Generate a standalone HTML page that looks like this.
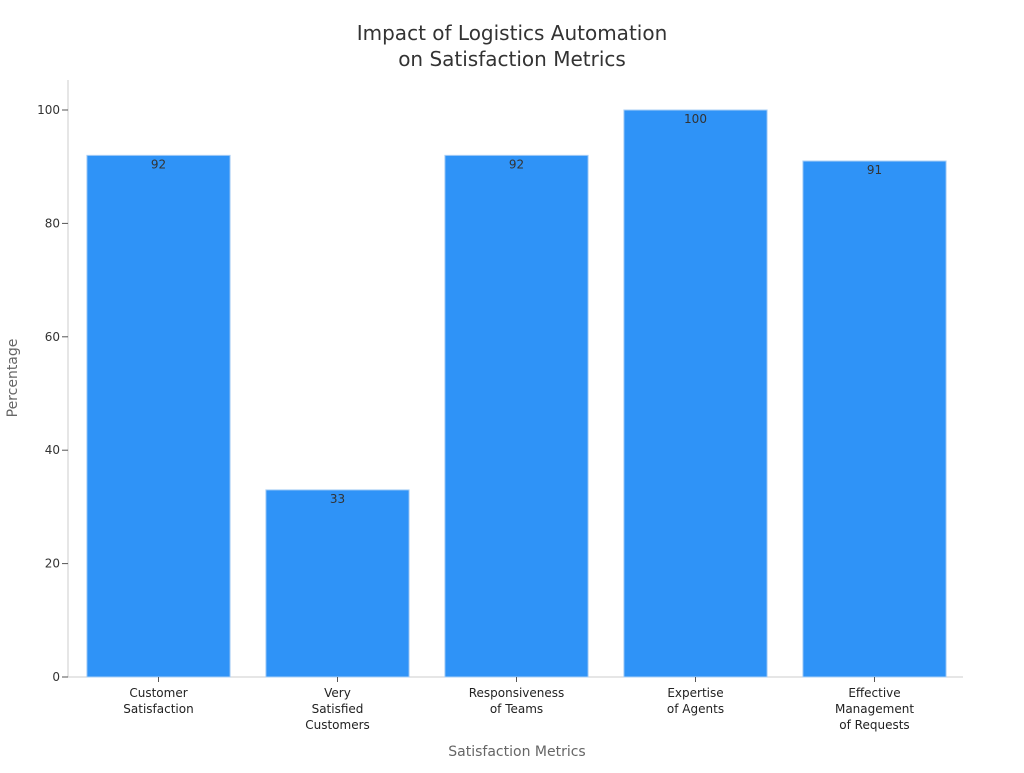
<!DOCTYPE html>
<html><head><meta charset="utf-8"><style>
html,body{margin:0;padding:0;background:#fff;}
svg text{font-family:"DejaVu Sans","Liberation Sans",sans-serif;}
</style></head><body>
<svg id="chart" width="1024" height="768">
<text x="512" y="40" text-anchor="middle" font-size="20" fill="#333"><tspan x="512" dy="0">Impact of Logistics Automation</tspan><tspan x="512" dy="26">on Satisfaction Metrics</tspan></text>
<text x="517" y="756" text-anchor="middle" font-size="14" fill="#666">Satisfaction Metrics</text>
<text transform="translate(17,378) rotate(-90)" text-anchor="middle" font-size="14" fill="#666">Percentage</text>
</svg>
<script>
const categories = [["Customer","Satisfaction"],["Very","Satisfied","Customers"],["Responsiveness","of Teams"],["Expertise","of Agents"],["Effective","Management","of Requests"]];
const values = [92, 33, 92, 100, 91];
const yTicks = [0, 20, 40, 60, 80, 100];

const svg = document.getElementById('chart');
const NS = 'http://www.w3.org/2000/svg';
const L = 68, R = 963, T = 80, B = 677;
const y = v => B - v * (B - 110) / 100;
const band = (R - L) / categories.length;
const x = i => L + 1 + i * band;
function mk(tag, attrs, parent) { const e = document.createElementNS(NS, tag); for (const k in attrs) e.setAttribute(k, attrs[k]); (parent || svg).appendChild(e); return e; }

const yAxis = mk('line', {x1: L, y1: T, x2: L, y2: B, stroke: '#ccc', 'stroke-width': 1});


const xAxis = mk('line', {x1: L, y1: B, x2: R, y2: B, stroke: '#ccc', 'stroke-width': 1});



yTicks.forEach(t => {
  const tk = mk('line', {x1: L - 6, y1: y(t), x2: L, y2: y(t), stroke: '#555'});
  
  
  const lb = mk('text', {x: L - 8, y: y(t) + 4, 'text-anchor': 'end', 'font-size': 12, fill: '#333'});
  lb.textContent = t;
  
  
});

values.forEach((v, i) => {
  const w = band * 0.8;
  const bx = x(i) + band * 0.1;
  const r = mk('rect', {x: bx, y: y(v), width: w, height: B - y(v), fill: '#2f93f7', stroke: '#a9cff5', 'stroke-width': 1});
  
  
  const vl = mk('text', {x: bx + w / 2, y: y(v) + 13, 'text-anchor': 'middle', 'font-size': 12, fill: '#333'});
  vl.textContent = v;
  
  
  const cx = x(i) + band / 2;
  const tk = mk('line', {x1: cx, y1: B, x2: cx, y2: B + 5, stroke: '#555'});
  
  
  const cl = mk('text', {x: cx, y: B + 20, 'text-anchor': 'middle', 'font-size': 12, fill: '#222'});
  
  
  categories[i].forEach((line, j) => {
    const ts = mk('tspan', {x: cx, dy: j === 0 ? 0 : 16}, cl);
    ts.textContent = line;
  });
});
</script>
</body></html>
